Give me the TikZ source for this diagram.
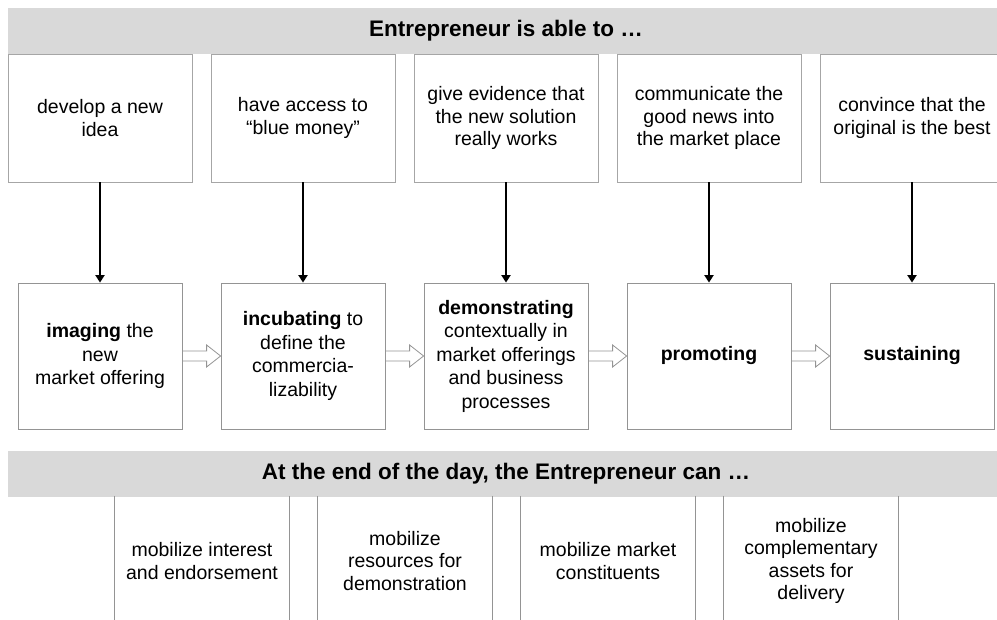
\documentclass[tikz,border=0pt]{standalone}
\usepackage{fontspec}
\setmainfont{Liberation Sans}
\usetikzlibrary{arrows.meta,calc}

\definecolor{bandgray}{HTML}{D9D9D9}
\definecolor{linegray}{HTML}{A6A6A6}

% open arrow between two phase boxes
\newcommand{\hollowarrow}[2]{%
  \draw[hollow] ($(#1.east)+(0,-5)$) -- ($(#2.west)+(-14,-5)$) -- ($(#2.west)+(-14,-11)$)
    -- (#2.west) -- ($(#2.west)+(-14,11)$) -- ($(#2.west)+(-14,5)$) -- ($(#1.east)+(0,5)$);}

\begin{document}
\begin{tikzpicture}[x=1pt,y=-1pt,
    ability/.style={
% The shape:
rectangle,
% The size:
minimum height=128pt,
minimum width=184pt,
% The border:
draw=linegray, line width=0.8pt,
align=center, font=\fontsize{19.5}{22.5}\selectfont
},
    phase/.style={
% The shape:
rectangle,
% The size:
minimum height=146pt,
minimum width=164pt,
% The border:
draw=linegray!120, line width=0.8pt,
align=center, font=\fontsize{19.5}{23.5}\selectfont
},
    outcome/.style={
% The shape:
rectangle,
% The size:
minimum height=130pt,
minimum width=175pt,
align=center, font=\fontsize{19.5}{22.5}\selectfont
},
    band/.style={
% The shape:
rectangle,
% The size:
minimum height=46pt,
minimum width=996pt,
fill=bandgray, inner sep=0pt,
font=\fontsize{22.5}{24}\selectfont\bfseries
},
    down/.style={line width=2pt, -{Triangle[width=9pt,length=7.5pt]}},
    hollow/.style={draw=linegray!120, line width=0.8pt},
    side/.style={draw=linegray!120, line width=0.8pt},
]
  \clip (0,0) rectangle (997,620);

  \node[ability] (a1) at (100, 118) {develop a new\\idea};
  \node[ability] (a2) at (303, 118) {have access to\\“blue money”};
  \node[ability] (a3) at (506, 118) {give evidence that\\the new solution\\really works};
  \node[ability] (a4) at (709, 118) {communicate the\\good news into\\the market place};
  \node[ability] (a5) at (912, 118) {convince that the\\original is the best};

  \node[band] (able) at (506, 31) {Entrepreneur is able to …};

  \node[phase] (p1) at (100, 356) {\textbf{imaging} the\\new\\market offering};
  \node[phase] (p2) at (303, 356) {\textbf{incubating} to\\define the\\commercia-\\lizability};
  \node[phase] (p3) at (506, 356) {\textbf{demonstrating}\\contextually in\\market offerings\\and business\\processes};
  \node[phase] (p4) at (709, 356) {\textbf{promoting}};
  \node[phase] (p5) at (912, 356) {\textbf{sustaining}};

  \draw[down] (a1.south) -- (p1.north);
  \draw[down] (a2.south) -- (p2.north);
  \draw[down] (a3.south) -- (p3.north);
  \draw[down] (a4.south) -- (p4.north);
  \draw[down] (a5.south) -- (p5.north);

  \hollowarrow{p1}{p2}
  \hollowarrow{p2}{p3}
  \hollowarrow{p3}{p4}
  \hollowarrow{p4}{p5}

  \node[band] (end) at (506, 474) {At the end of the day, the Entrepreneur can …};

  \node[outcome] (o1) at (202, 561) {mobilize interest\\and endorsement};
  \node[outcome] (o2) at (405, 561) {mobilize\\resources for\\demonstration};
  \node[outcome] (o3) at (608, 561) {mobilize market\\constituents};
  \node[outcome] (o4) at (811, 561) {mobilize\\complementary\\assets for\\delivery};

  \draw[side] (o1.north west) -- (o1.south west) (o1.north east) -- (o1.south east);
  \draw[side] (o2.north west) -- (o2.south west) (o2.north east) -- (o2.south east);
  \draw[side] (o3.north west) -- (o3.south west) (o3.north east) -- (o3.south east);
  \draw[side] (o4.north west) -- (o4.south west) (o4.north east) -- (o4.south east);
\end{tikzpicture}
\end{document}
